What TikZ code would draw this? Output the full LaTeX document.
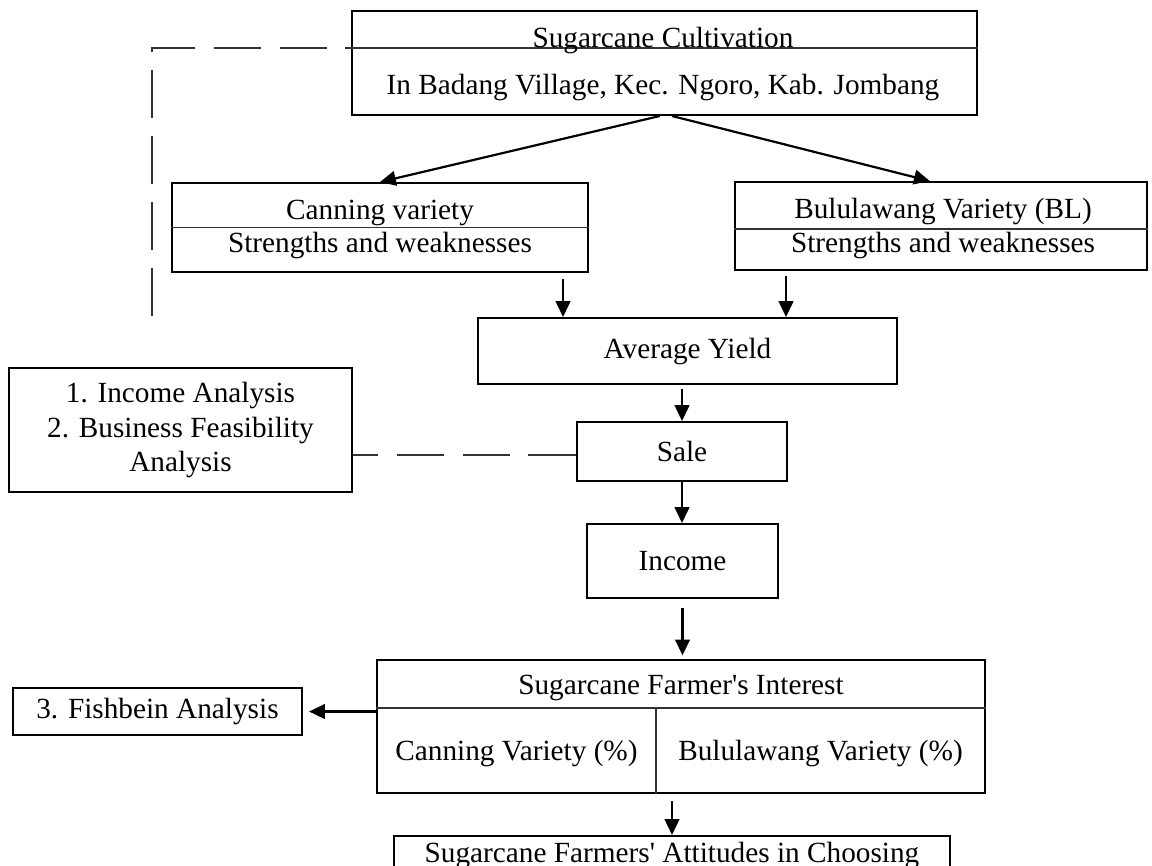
\documentclass[tikz,border=0pt]{standalone}
\usepackage{fontspec}
\setmainfont{Liberation Serif}[Ligatures=TeXOff]
\usepackage{tikz}
\usetikzlibrary{arrows.meta}
\usetikzlibrary{positioning}
\usetikzlibrary{calc}

\begin{document}
\begin{tikzpicture}[
    x=0.41pt, y=-0.41pt,
    font=\fontsize{12}{14.1}\selectfont,
    box/.style={rectangle, draw=black, line width=0.8pt, inner sep=0pt, align=center},
    boxsize/.style 2 args={minimum width=#1*0.41pt, minimum height=#2*0.41pt},
    txt/.style={inner sep=0pt, anchor=base},
    divider/.style={draw=black!80, line width=0.6pt},
    arrow/.style={-{Triangle[length=6.5pt,width=6pt]}, line width=0.9pt, draw=black},
    dashlink/.style={draw=black!80, line width=0.6pt, dash pattern=on 19.5pt off 7.5pt}
]

\useasboundingbox (0,0) rectangle (1152,865);

% Cultivation
\node[box, boxsize={625}{104}] (cultiv) at (664.5,63) {};
\coordinate (divstart) at (393,48);
\draw[divider] (divstart) -- (divstart -| cultiv.east);
\node[txt] (cultivtop) at (663,47) {Sugarcane Cultivation};
\node[txt] (cultivloc) at (663,94) {In Badang Village, Kec. Ngoro, Kab. Jombang};

% Varieties
\node[box, boxsize={416}{89}] (canning) at (380,227.5) {};
\draw[divider] (canning.west) -- (canning.east);
\node[txt] (canningname) at (380,219) {Canning variety};
\node[txt] (canningnote) at (380,252) {Strengths and weaknesses};

\node[box, boxsize={412}{88}] (bl) at (941,226) {};
\draw[divider] (bl.west |- 0,229) -- (bl.east |- 0,229);
\node[txt] (blname) at (943,218) {Bululawang Variety (BL)};
\node[txt] (blnote) at (943,252) {Strengths and weaknesses};

% Yield, sale and income
\node[box, boxsize={419}{66}] (avg) at (687.5,351) {Average Yield};
\node[box, boxsize={210}{59}] (sale) at (682,451.5) {Sale};
\node[box, boxsize={191}{74}] (income) at (682.5,561) {Income};

% Analyses
\node[box, boxsize={343}{124}] (analysis) at (180.5,430) {1. Income Analysis\\2. Business Feasibility\\Analysis};
\node[box, boxsize={289}{47}] (fishbein) at (157.5,711.5) {3. Fishbein Analysis};

% Interest
\node[box, boxsize={608}{133}] (interest) at (681,726.5) {};
\draw[divider] (interest.west |- 0,708) -- (interest.east |- 0,708);
\coordinate (split) at (656,708);
\draw[divider] (split) -- (split |- interest.south);
\node[txt] (interesttitle) at (681,694) {Sugarcane Farmer's Interest};
\node[txt] (canningshare) at (516.5,760) {Canning Variety (\%)};
\node[txt] (blshare) at (820.5,760) {Bululawang Variety (\%)};

% Attitude
\node[box, boxsize={556}{50}, anchor=north] (attitude) at (672,835) {};
\node[txt] (attitudetext) at (672,862) {Sugarcane Farmers' Attitudes in Choosing};

% Arrows
\draw[arrow] (cultiv.265) -- (canning.north);
\draw[arrow] (cultiv.278) -- (bl.104);
\draw[arrow, shorten <=2.5pt] (canning.south -| 563,0) -- (avg.north -| 563,0);
\draw[arrow, shorten <=2pt] (bl.south -| 786,0) -- (avg.north -| 786,0);
\draw[arrow, shorten <=1.6pt] (avg.south -| sale.north) -- (sale.north);
\draw[arrow] (sale.south) -- (sale.south |- income.north);
\draw[arrow, shorten <=3.5pt, shorten >=1.5pt] (income.south) -- (income.south |- interest.north);
\draw[arrow, shorten >=2.5pt] (interest.west |- fishbein.east) -- (fishbein.east);
\draw[arrow, shorten <=2.9pt] (attitude.north |- interest.south) -- (attitude.north);

% Dashed links
\coordinate (corner) at (152,48);
\coordinate (dashend) at (152,320);
\draw[dashlink] (divstart) -- (corner) -- (dashend);
\draw[dashlink] (sale.west |- 0,455) -- (analysis.east |- 0,455);

\end{tikzpicture}
\end{document}
